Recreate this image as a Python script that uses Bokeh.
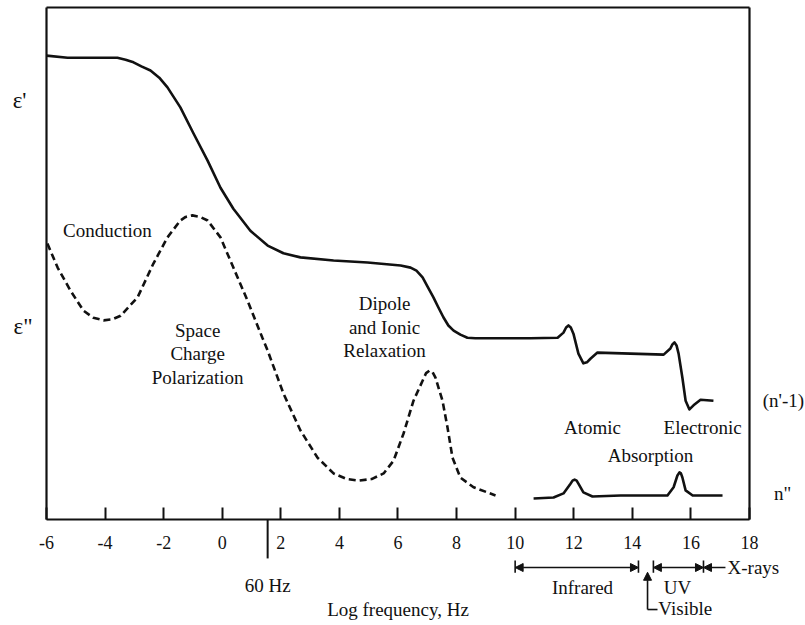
from bokeh.plotting import figure
from bokeh.models import Range1d, LinearAxis, FixedTicker, Arrow, NormalHead
from bokeh.core.properties import value
from bokeh.embed import file_html
from bokeh.resources import INLINE

# ---------------- data (log10 frequency, arbitrary response units) ----------------
tick_values = [-6, -4, -2, 0, 2, 4, 6, 8, 10, 12, 14, 16, 18]
tick_labels = ["-6", "-4", "-2", "0", "2", "4", "6", "8", "10", "12", "14", "16", "18"]

# epsilon' / (n'-1)  (solid)
eps_real_x = [-6.00, -5.28, -3.58, -3.30, -3.03, -2.76, -2.45, -2.15, -1.87, -1.43,
              -0.98, -0.50, -0.06, 0.38, 0.96, 1.55, 2.09, 2.67, 3.80, 4.96,
              6.09, 6.43, 6.63, 6.84, 7.01, 7.21, 7.38, 7.55, 7.72, 7.90,
              8.13, 8.37, 8.64, 9.16, 10.52, 11.45, 11.65, 11.74, 11.82, 11.90,
              11.99, 12.16, 12.33, 12.45, 12.57, 12.81, 13.94, 15.07, 15.30, 15.37,
              15.44, 15.51, 15.58, 15.71, 15.82, 15.95, 16.09, 16.33, 16.77]
eps_real_y = [90.6, 90.2, 90.2, 89.8, 89.3, 88.5, 87.7, 86.3, 84.4, 80.5,
              75.4, 70.1, 64.8, 60.7, 56.4, 53.5, 52.0, 51.2, 50.6, 50.2,
              49.6, 49.2, 48.6, 47.3, 45.5, 43.4, 41.4, 39.5, 37.9, 36.9,
              36.1, 35.5, 35.4, 35.4, 35.4, 35.5, 36.5, 37.5, 37.9, 37.5,
              36.3, 32.4, 30.5, 30.7, 31.4, 32.6, 32.4, 32.2, 33.4, 34.2,
              34.6, 34.0, 32.4, 27.7, 23.2, 21.5, 22.3, 23.4, 23.2]

# epsilon'' (dashed)
eps_imag_x = [-5.97, -5.62, -5.18, -4.74, -4.40, -4.05, -3.75, -3.47, -2.89, -2.35,
              -1.87, -1.43, -1.25, -1.02, -0.75, -0.50, -0.06, 0.38, 0.86, 1.37,
              1.55, 2.09, 2.67, 3.25, 3.80, 4.25, 4.65, 5.10, 5.51, 5.85,
              6.19, 6.53, 6.84, 6.96, 7.08, 7.18, 7.28, 7.52, 7.69, 7.86,
              8.13, 8.58, 9.33]
eps_imag_y = [53.9, 49.2, 44.7, 40.8, 39.4, 38.9, 39.1, 39.8, 43.4, 50.0,
              55.1, 58.4, 59.1, 59.4, 59.1, 58.4, 55.1, 49.2, 42.8, 35.5,
              33.0, 24.6, 17.4, 12.1, 9.0, 7.9, 7.6, 7.9, 9.0, 11.5,
              16.8, 23.2, 27.1, 28.6, 29.1, 28.8, 27.7, 23.2, 18.0, 12.1,
              8.2, 6.3, 4.7]

# n'' (solid, lower)
n_imag_x = [10.63, 11.31, 11.65, 11.89, 11.96, 12.03, 12.10, 12.16, 12.33, 12.64,
            13.60, 15.20, 15.41, 15.54, 15.61, 15.66, 15.71, 15.82, 16.06, 17.08]
n_imag_y = [4.1, 4.3, 5.1, 7.0, 7.6, 7.8, 7.6, 7.0, 5.3, 4.5,
            4.7, 4.7, 6.3, 8.6, 9.2, 9.0, 8.2, 5.7, 4.7, 4.7]

mark_60hz = 1.55
infrared_band = (10.0, 14.21)
visible_mark = 14.52
uv_band = (14.72, 16.43)
xray_start = 16.43

FONT = "Liberation Serif"
BLACK = "#111111"

p = figure(width=805, height=625,
           x_range=Range1d(-7.5705, 19.913), y_range=Range1d(-20.70, 101.37),
           x_axis_type=None, y_axis_type=None,
           toolbar_location=None, output_backend="svg", min_border=0)
p.outline_line_color = None
p.background_fill_color = "white"
p.border_fill_color = "white"

# ---- frame built from axes ----
xaxis = LinearAxis(fixed_location=0, bounds=(-6, 18),
                   ticker=FixedTicker(ticks=tick_values),
                   major_label_overrides={v: s for v, s in zip(tick_values, tick_labels)})
xaxis.major_tick_in = 12
xaxis.major_tick_out = 0
xaxis.major_tick_line_width = 2
xaxis.major_tick_line_color = BLACK
xaxis.minor_tick_line_color = None
xaxis.axis_line_width = 2.2
xaxis.axis_line_color = BLACK
xaxis.major_label_standoff = 16
xaxis.major_label_text_font = FONT
xaxis.major_label_text_font_size = "18px"
xaxis.major_label_text_color = BLACK
xaxis.axis_label = "Log frequency, Hz"
xaxis.axis_label_text_font = FONT
xaxis.axis_label_text_font_size = "19px"
xaxis.axis_label_text_font_style = "normal"
xaxis.axis_label_text_color = BLACK
xaxis.axis_label_standoff = 47
p.add_layout(xaxis, "below")

def bare_axis(loc, bounds):
    ax = LinearAxis(fixed_location=loc, bounds=bounds, ticker=FixedTicker(ticks=[]))
    ax.axis_line_width = 2.2
    ax.axis_line_color = BLACK
    ax.major_tick_line_color = None
    ax.minor_tick_line_color = None
    ax.major_label_text_font_size = "0px"
    return ax

p.add_layout(bare_axis(-6, (0, 100)), "left")
p.add_layout(bare_axis(18, (0, 100)), "right")
p.add_layout(bare_axis(100, (-6, 18)), "above")

# ---- curves ----
p.line(eps_real_x, eps_real_y, line_color=BLACK, line_width=2.6, line_join="round")
p.line(eps_imag_x, eps_imag_y, line_color=BLACK, line_width=2.6, line_dash="7 4")
p.line(n_imag_x, n_imag_y, line_color=BLACK, line_width=2.6, line_join="round")

# ---- 60 Hz marker ----
p.segment(x0=[mark_60hz], y0=[0], x1=[mark_60hz], y1=[-7.6], line_color=BLACK, line_width=2)

# ---- spectral bands below axis ----
band_y = -9.375
bar_x = [infrared_band[0], infrared_band[1], uv_band[0], uv_band[1]]
p.segment(x0=bar_x, y0=[-8.0] * 4, x1=bar_x, y1=[-10.4] * 4, line_color=BLACK, line_width=1.6)

def head():
    return NormalHead(size=8, fill_color=BLACK, line_color=BLACK, line_width=1)

for a, b in (infrared_band, uv_band):
    p.add_layout(Arrow(start=head(), end=head(), x_start=a, y_start=band_y, x_end=b, y_end=band_y,
                       line_color=BLACK, line_width=1.6))
p.add_layout(Arrow(end=head(), x_start=17.18, y_start=band_y, x_end=xray_start, y_end=band_y,
                   line_color=BLACK, line_width=1.6))
p.add_layout(Arrow(end=head(), x_start=visible_mark, y_start=-17.58, x_end=visible_mark, y_end=-10.3,
                   line_color=BLACK, line_width=1.6))
p.segment(x0=[visible_mark], y0=[-17.58], x1=[14.86], y1=[-17.58], line_color=BLACK, line_width=1.6)

# ---- texts ----
center_texts = ["Conduction", "Space", "Charge", "Polarization",
                "Dipole", "and Ionic", "Relaxation",
                "Atomic", "Electronic", "Absorption",
                "n\"", "60 Hz", "Infrared", "UV"]
center_x = [-3.92, -0.84, -0.84, -0.84, 5.54, 5.54, 5.54, 12.64, 16.40, 14.62,
            19.13, 1.55, 12.30, 15.54]
center_y = [56.4, 36.9, 32.4, 27.7, 42.2, 37.5, 33.0, 18.0, 18.0, 12.5,
            5.1, -12.9, -13.28, -13.28]
p.text(x=center_x, y=center_y, text=center_texts, text_font=value(FONT),
       text_font_size="19px", text_align="center", text_baseline="middle", text_color=BLACK)

p.text(x=[-6.92, -6.80], y=[81.8, 37.7], text=["\u03b5'", "\u03b5\""], text_font=value(FONT),
       text_font_size="23px", text_align="center", text_baseline="middle", text_color=BLACK)

p.text(x=[17.25, 14.89, 18.45], y=[band_y, -17.38, 23.2], text=["X-rays", "Visible", "(n'-1)"],
       text_font=value(FONT), text_font_size="19px", text_align="left", text_baseline="middle",
       text_color=BLACK)

open("out.html", "w").write(file_html(p, INLINE))
